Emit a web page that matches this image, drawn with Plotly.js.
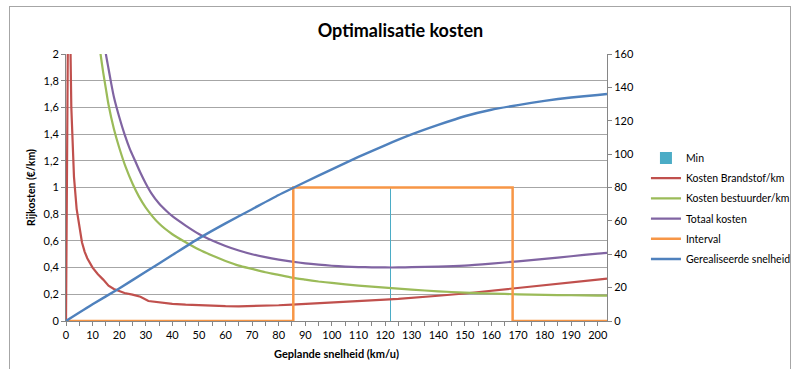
<!DOCTYPE html>
<html>
<head>
<meta charset="utf-8">
<script src="https://cdn.plot.ly/plotly-3.0.1.min.js"></script>
<style>
  html, body { margin: 0; padding: 0; background: #fff; }
  #wrap { position: relative; width: 793px; height: 369px; overflow: hidden; }
  #frame { position: absolute; left: 9px; top: 6px; width: 782px; height: 400px;
           border: 1px solid #a6a6a6; box-sizing: border-box; pointer-events: none; }
  #chart { position: absolute; left: 0; top: 0; width: 793px; height: 369px; }
</style>
</head>
<body>
<div id="wrap">
  <div id="chart"></div>
  <div id="frame"></div>
</div>
<script>
// Geplande snelheid (km/u) en kosten per km (€/km)
const brandstofX = [0, 1, 2, 3, 4, 5, 6, 7, 8, 10, 12, 14, 16, 18, 20, 22, 25, 28, 31, 35, 40, 45, 50, 55, 60, 65, 70, 75, 80, 85, 90, 95, 100, 105, 110, 115, 120, 125, 130, 140, 150, 160, 170, 180, 190, 200, 203.5];
const brandstofY = [0, 3.0, 1.6, 1.08, 0.84, 0.7, 0.59, 0.52, 0.47, 0.4, 0.35, 0.31, 0.265, 0.24, 0.222, 0.21, 0.198, 0.182, 0.15, 0.138, 0.128, 0.122, 0.117, 0.113, 0.111, 0.11, 0.111, 0.114, 0.118, 0.123, 0.129, 0.135, 0.141, 0.147, 0.152, 0.156, 0.16, 0.165, 0.172, 0.189, 0.206, 0.226, 0.245, 0.269, 0.29, 0.31, 0.318];

const bestuurderX = [12, 13, 14, 15, 16, 18, 20, 22.5, 25, 27.5, 30, 35, 40, 45, 50, 55, 60, 65, 70, 75, 80, 85, 90, 95, 100, 110, 120, 130, 140, 150, 160, 170, 180, 190, 200, 203.5];
const bestuurderY = [2.16, 2.0, 1.86, 1.74, 1.62, 1.44, 1.3, 1.15, 1.03, 0.93, 0.85, 0.73, 0.65, 0.59, 0.535, 0.49, 0.45, 0.415, 0.39, 0.365, 0.345, 0.325, 0.31, 0.296, 0.285, 0.265, 0.25, 0.235, 0.222, 0.213, 0.206, 0.2, 0.196, 0.193, 0.19, 0.19];

const totaalX = [13, 14, 15, 16, 17, 18, 20, 22, 24, 26, 28, 30, 32, 35, 38, 40, 45, 50, 55, 60, 65, 70, 75, 80, 85, 90, 95, 100, 105, 110, 115, 120, 125, 130, 140, 150, 160, 170, 180, 190, 200, 203.5];
const totaalY = [2.3, 2.14, 2.0, 1.89, 1.78, 1.68, 1.53, 1.4, 1.29, 1.2, 1.11, 1.03, 0.96, 0.88, 0.82, 0.785, 0.715, 0.652, 0.603, 0.562, 0.528, 0.5, 0.478, 0.46, 0.445, 0.432, 0.422, 0.414, 0.408, 0.404, 0.402, 0.401, 0.401, 0.403, 0.407, 0.415, 0.43, 0.447, 0.465, 0.485, 0.505, 0.51];

// Interval rond het minimum (0 = buiten, 1 = binnen)
const intervalX = [0, 85.5, 85.5, 168, 168, 203.5];
const intervalY = [0, 0, 1, 1, 0, 0];

// Snelheid met minimale totale kosten
const minX = [122];
const minY = [1];

// Gerealiseerde snelheid (km/u, rechteras)
const gerealiseerdX = [0, 10, 20, 30, 40, 50, 60, 70, 80, 90, 100, 110, 120, 130, 140, 150, 160, 170, 180, 190, 200, 203.5];
const gerealiseerdY = [0, 10, 19.5, 29.5, 39.5, 49.5, 58.5, 67, 75.5, 83.3, 90.9, 98.3, 105.3, 111.8, 117.5, 122.7, 126.6, 129.4, 131.9, 133.9, 135.4, 136];

const FONT = "Lato, 'Liberation Sans', sans-serif";
const AXIS = '#868686';

const traces = [
  { type: 'bar', name: 'Min', x: minX, y: minY, width: 0.45,
    marker: { color: '#4BACC6', line: { width: 0 } }, legendgroup: 'g1' },
  { type: 'scatter', mode: 'lines', name: 'Kosten Brandstof/km', x: brandstofX, y: brandstofY,
    line: { color: '#C0504D', width: 2.2 }, legendgroup: 'g2' },
  { type: 'scatter', mode: 'lines', name: 'Kosten bestuurder/km', x: bestuurderX, y: bestuurderY,
    line: { color: '#9BBB59', width: 2.2, shape: 'spline', smoothing: 0.6 }, legendgroup: 'g3' },
  { type: 'scatter', mode: 'lines', name: 'Totaal kosten', x: totaalX, y: totaalY,
    line: { color: '#8064A2', width: 2.2, shape: 'spline', smoothing: 0.6 }, legendgroup: 'g4' },
  { type: 'scatter', mode: 'lines', name: 'Interval', x: intervalX, y: intervalY,
    line: { color: '#F79646', width: 2.5 }, legendgroup: 'g5' },
  { type: 'scatter', mode: 'lines', name: 'Gerealiseerde snelheid', x: gerealiseerdX, y: gerealiseerdY,
    yaxis: 'y2', line: { color: '#4F81BD', width: 2.4, shape: 'spline', smoothing: 0.6 }, legendgroup: 'g6' }
];

const layout = {
  width: 793, height: 369,
  margin: { l: 66, r: 186, t: 54, b: 48, pad: 0, autoexpand: false },
  paper_bgcolor: 'rgba(0,0,0,0)', plot_bgcolor: '#fff',
  separators: ',.',
  font: { family: FONT, size: 11, color: '#000' },
  title: { text: '<b>Optimalisatie kosten</b>', font: { family: FONT, size: 18, color: '#000' },
           x: 0.505, xanchor: 'center', y: 0.918, yanchor: 'middle' },
  showlegend: true,
  legend: { x: 1.072, xanchor: 'left', y: 0.665, yanchor: 'top',
            font: { family: FONT, size: 10.5, color: '#000' },
            tracegroupgap: 1.2, bgcolor: 'rgba(0,0,0,0)', traceorder: 'grouped' },
  bargap: 0,
  xaxis: {
    range: [0, 203.5], tick0: 0, dtick: 10, ticks: 'outside', ticklen: 4, tickcolor: AXIS,
    showline: true, linecolor: AXIS, linewidth: 1, showgrid: false, zeroline: false,
    tickfont: { family: FONT, size: 11, color: '#000' },
    minor: { dtick: 5, ticks: 'outside', ticklen: 4, tickcolor: AXIS, showgrid: false },
    title: { text: '<b>Geplande snelheid (km/u)</b>', font: { family: FONT, size: 11, color: '#000' }, standoff: 10 }
  },
  yaxis: {
    range: [0, 2], tick0: 0, dtick: 0.2, ticks: 'outside', ticklen: 4, tickcolor: AXIS,
    showline: true, linecolor: AXIS, linewidth: 1, showgrid: true, gridcolor: '#a6a6a6', gridwidth: 1,
    zeroline: false, tickfont: { family: FONT, size: 11, color: '#000' },
    title: { text: '<b>Rijkosten (€/km)</b>', font: { family: FONT, size: 10.5, color: '#000' }, standoff: 5 }
  },
  yaxis2: {
    range: [0, 160], tick0: 0, dtick: 20, overlaying: 'y', side: 'right', ticks: 'outside', ticklen: 4,
    tickcolor: AXIS, showline: true, linecolor: AXIS, linewidth: 1, showgrid: false, zeroline: false,
    tickfont: { family: FONT, size: 11, color: '#000' }
  }
};

Plotly.newPlot('chart', traces, layout, { staticPlot: true, displayModeBar: false });
</script>
</body>
</html>
